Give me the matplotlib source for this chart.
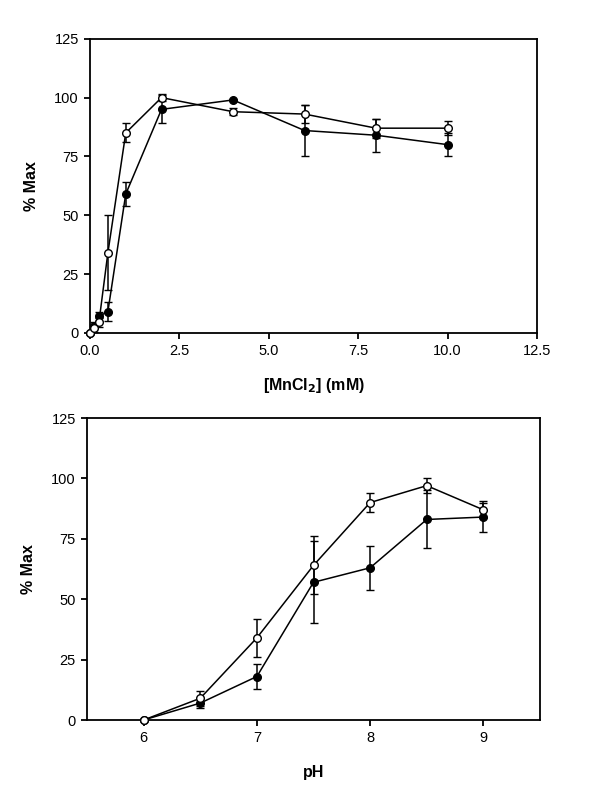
import matplotlib
matplotlib.use("Agg")
import matplotlib.pyplot as plt

plt.rcParams['font.family'] = ['Liberation Sans', 'DejaVu Sans']

# Top panel: MnCl2 concentration
mn_x = [0, 0.1, 0.25, 0.5, 1, 2, 4, 6, 8, 10]
mn_open = [0, 2, 4.5, 34, 85, 100, 94, 93, 87, 87]
mn_open_err = [0.5, 1.5, 2, 16, 4, 1.5, 1.5, 4, 4, 3]
mn_fill = [0, 3, 7, 9, 59, 95, 99, 86, 84, 80]
mn_fill_err = [0.5, 1.5, 2, 4, 5, 6, 0.5, 11, 7, 5]

# Bottom panel: pH
ph_x = [6, 6.5, 7, 7.5, 8, 8.5, 9]
ph_open = [0, 9, 34, 64, 90, 97, 87]
ph_open_err = [0.3, 3, 8, 12, 4, 3, 3.5]
ph_fill = [0, 7, 18, 57, 63, 83, 84]
ph_fill_err = [0.3, 2, 5, 17, 9, 12, 6]

mn_xticks = [0.0, 2.5, 5.0, 7.5, 10.0, 12.5]
ph_xticks = [6, 7, 8, 9]
yticks = [0, 25, 50, 75, 100, 125]

fig = plt.figure(figsize=(6, 8), dpi=100)
ax1 = fig.add_axes([0.150, 0.584, 0.745, 0.3675])
ax2 = fig.add_axes([0.145, 0.100, 0.755, 0.3775])

def style(ax):
    for s in ax.spines.values():
        s.set_linewidth(1.3)
    ax.tick_params(direction='out', length=4, width=1.3, labelsize=10.5, pad=4)
    ax.set_yticks(yticks)
    ax.set_ylim(0, 125)
    ax.set_ylabel('% Max', fontsize=11.5, fontweight='bold', labelpad=11)

ekw = dict(color='black', ecolor='black', elinewidth=1.1, capsize=3, capthick=1.1,
           linewidth=1.1, markersize=5.5, markeredgewidth=1.0, clip_on=False)

ax1.errorbar(mn_x, mn_fill, yerr=mn_fill_err, fmt='-o', markerfacecolor='black',
             markeredgecolor='black', zorder=3, **ekw)
ax1.errorbar(mn_x, mn_open, yerr=mn_open_err, fmt='-o', markerfacecolor='white',
             markeredgecolor='black', zorder=4, **ekw)
ax1.set_xlim(0, 12.5)
ax1.set_xticks(mn_xticks)
ax1.set_xticklabels([f'{t:.1f}' for t in mn_xticks])
style(ax1)
ax1.set_xlabel('[MnCl$_\\mathbf{2}$] (mM)', fontsize=11.5, fontweight='bold', labelpad=13)

ax2.errorbar(ph_x, ph_fill, yerr=ph_fill_err, fmt='-o', markerfacecolor='black',
             markeredgecolor='black', zorder=3, **ekw)
ax2.errorbar(ph_x, ph_open, yerr=ph_open_err, fmt='-o', markerfacecolor='white',
             markeredgecolor='black', zorder=4, **ekw)
ax2.set_xlim(5.5, 9.5)
ax2.set_xticks(ph_xticks)
style(ax2)
ax2.set_xlabel('pH', fontsize=11.5, fontweight='bold', labelpad=14)

fig.savefig('out.png', dpi=100, facecolor='white')
